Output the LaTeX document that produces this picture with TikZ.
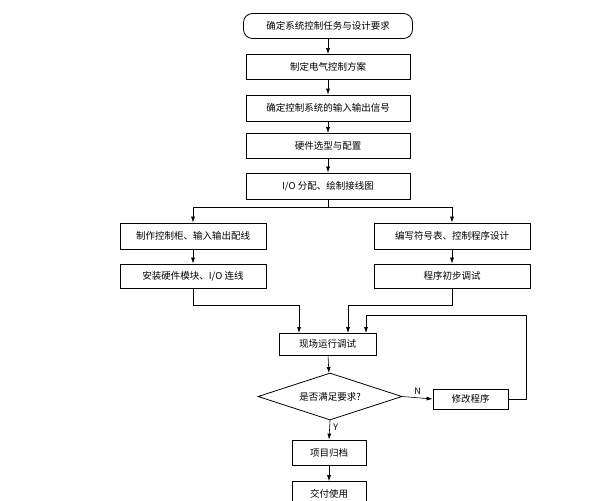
\documentclass[tikz,border=0pt]{standalone}
\usepackage{fontspec}
\setmainfont{Noto Sans CJK SC}
\usetikzlibrary{shapes.geometric,arrows.meta}
\begin{document}
\begin{tikzpicture}[x=1pt,y=-1pt,
 box/.style={draw,thick,minimum height=#1,inner sep=0pt,font=\fontsize{9.5}{11}\selectfont},
 box/.default=25pt,
 arr/.style={-{Latex[length=6pt,width=4pt]},semithick},
 ln/.style={semithick}]
\path[use as bounding box] (0,0) rectangle (601,500);
\node[box,rounded corners=9pt,minimum width=169pt] (a) at (328,26) {确定系统控制任务与设计要求};
\node[box,minimum width=164pt] (b) at (328,67) {制定电气控制方案};
\node[box,minimum width=164pt,minimum height=26pt] (c) at (328,108) {确定控制系统的输入输出信号};
\node[box,minimum width=164pt] (d) at (328,146) {硬件选型与配置};
\node[box,minimum width=164pt,minimum height=26pt] (e) at (328,186) {I/O 分配、绘制接线图};
\node[box,minimum width=146pt,minimum height=26pt] (l1) at (193,236) {制作控制柜、输入输出配线};
\node[box,minimum width=146pt,minimum height=24pt] (l2) at (193,276) {安装硬件模块、I/O 连线};
\node[box,minimum width=156pt,minimum height=26pt] (r1) at (452,236) {编写符号表、控制程序设计};
\node[box,minimum width=156pt,minimum height=24pt] (r2) at (452,276) {程序初步调试};
\node[box,minimum width=97pt,minimum height=22pt] (f) at (327.5,344) {现场运行调试};
\node[draw,thick,diamond,aspect=3.06,minimum width=144pt,minimum height=47pt,inner sep=0pt,font=\fontsize{9.5}{11}\selectfont] (g) at (330,396.5) {是否满足要求?};
\node[box,minimum width=75pt,minimum height=20pt] (m) at (470.5,399) {修改程序};
\node[box,minimum width=74pt] (p) at (329,452.5) {项目归档};
\node[box,minimum width=74pt] (q) at (329,494) {交付使用};
\coordinate (br) at (328,207);
\draw[arr] (a) -- (b);
\draw[arr] (b) -- (c);
\draw[arr] (c) -- (d);
\draw[arr] (d) -- (e);
\draw[ln] (e) -- (br);
\draw[arr] (br) -| (l1.north);
\draw[arr] (br) -| (r1.north);
\draw[arr] (l1) -- (l2);
\draw[arr] (r1) -- (r2);
\draw[arr] (l2.south) |- (299,305) -- (299,333);
\draw[arr] (r2.south) |- (348,305) -- (348,333);
\draw[arr] (m.east) -| (526,315) -| (366,333);
\draw[arr] (f) -- (g);
\draw[arr] (g.east) -- node[above,font=\fontsize{9}{10}\selectfont]{N} (m.west);
\draw[arr] (g.south) -- node[right,pos=0.35,font=\fontsize{9}{10}\selectfont]{Y} (p.north);
\draw[arr] (p) -- (q);
\end{tikzpicture}
\end{document}
